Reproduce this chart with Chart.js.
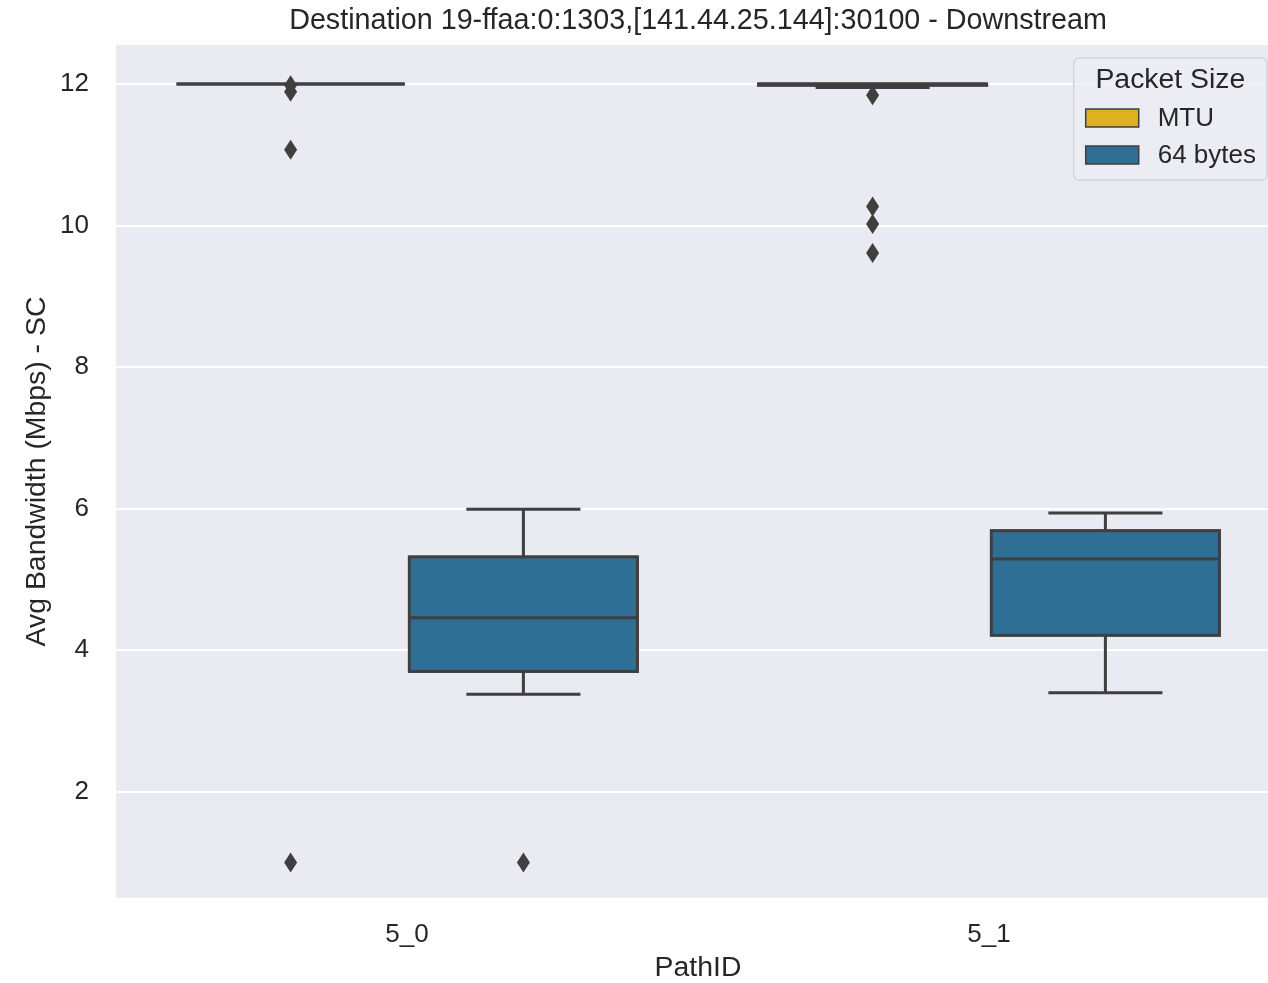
<!DOCTYPE html>
<html>
<head>
<meta charset="utf-8">
<title>Downstream bandwidth</title>
<style>
  html, body { margin: 0; padding: 0; background: #fff; overflow: hidden; }
  #wrap { width: 1282px; height: 983px; }
</style>
</head>
<body>
<div id="wrap"><canvas id="boxChart" width="1282" height="983"></canvas></div>

<script src="https://cdn.jsdelivr.net/npm/chart.js@4.4.0/dist/chart.umd.min.js"></script>

<script>
  const chartTitle = 'Destination 19-ffaa:0:1303,[141.44.25.144]:30100 - Downstream'
  const pathIds = ['5_0', '5_1']
  const packetSizes = ['MTU', '64 bytes']
  const yTicks = [2, 4, 6, 8, 10, 12]

  // MTU packets, one value per path
  const mtuLow = [12.0, 11.95]
  const mtuQ1 = [12.0, 11.98]
  const mtuMedian = [12.0, 12.0]
  const mtuQ3 = [12.0, 12.0]
  const mtuHigh = [12.0, 12.0]
  const mtuOutliers = [[11.98, 11.89, 11.07, 1.0], [11.84, 10.27, 10.02, 9.61]]

  // 64 byte packets
  const smallLow = [3.38, 3.40]
  const smallQ1 = [3.70, 4.21]
  const smallMedian = [4.46, 5.29]
  const smallQ3 = [5.32, 5.69]
  const smallHigh = [5.99, 5.94]
  const smallOutliers = [[1.0], []]

  const boxStats = [
    { low: mtuLow, q1: mtuQ1, median: mtuMedian, q3: mtuQ3, high: mtuHigh, outliers: mtuOutliers },
    { low: smallLow, q1: smallQ1, median: smallMedian, q3: smallQ3, high: smallHigh, outliers: smallOutliers }
  ]
  const fillColors = ['#E0B11F', '#2F6E95']
  const lineColor = '#3F3F3F'
  const textColor = '#262626'
  const fontFamily = '"Liberation Sans", Arial, sans-serif'

  Chart.defaults.font.family = fontFamily
  Chart.defaults.color = textColor

  // plot panel background
  const panel = {
    id: 'panel',
    beforeDraw(chart) {
      const { ctx, chartArea: a } = chart
      ctx.save()
      ctx.fillStyle = '#ffffff'
      ctx.fillRect(0, 0, chart.width, chart.height)
      ctx.fillStyle = '#EAEAF2'
      ctx.fillRect(a.left, a.top, a.right - a.left, a.bottom - a.top)
      ctx.restore()
    }
  }

  // whiskers, box outline, median and outliers on top of the floating bars
  const boxPlot = {
    id: 'boxPlot',
    afterDatasetsDraw(chart) {
      const ctx = chart.ctx
      const y = chart.scales.y
      chart.data.datasets.forEach((ds, i) => {
        const s = boxStats[i]
        chart.getDatasetMeta(i).data.forEach((bar, j) => {
          const x = bar.x
          const w = bar.width
          const pLow = y.getPixelForValue(s.low[j])
          const pQ1 = y.getPixelForValue(s.q1[j])
          const pMed = y.getPixelForValue(s.median[j])
          const pQ3 = y.getPixelForValue(s.q3[j])
          const pHigh = y.getPixelForValue(s.high[j])
          ctx.save()
          ctx.strokeStyle = lineColor
          ctx.lineWidth = 3
          ctx.beginPath()
          ctx.moveTo(x, pQ3); ctx.lineTo(x, pHigh)
          ctx.moveTo(x, pQ1); ctx.lineTo(x, pLow)
          ctx.moveTo(x - w / 4, pHigh); ctx.lineTo(x + w / 4, pHigh)
          ctx.moveTo(x - w / 4, pLow); ctx.lineTo(x + w / 4, pLow)
          ctx.moveTo(x - w / 2, pMed); ctx.lineTo(x + w / 2, pMed)
          ctx.stroke()
          ctx.strokeRect(x - w / 2, pQ3, w, pQ1 - pQ3)
          ctx.fillStyle = lineColor
          s.outliers[j].forEach(v => {
            const py = y.getPixelForValue(v)
            ctx.beginPath()
            ctx.moveTo(x, py - 10)
            ctx.lineTo(x + 6.5, py)
            ctx.lineTo(x, py + 10)
            ctx.lineTo(x - 6.5, py)
            ctx.closePath()
            ctx.fill()
          })
          ctx.restore()
        })
      })
    }
  }

  // title centred over the plot panel, legend box in its top right corner
  const annotations = {
    id: 'annotations',
    afterDraw(chart) {
      const { ctx, chartArea: a } = chart
      ctx.save()
      ctx.fillStyle = textColor
      ctx.font = '28.7px ' + fontFamily
      ctx.textAlign = 'center'
      ctx.textBaseline = 'middle'
      ctx.fillText(chartTitle, (a.left + a.right) / 2, 21)

      const labelFont = '26px ' + fontFamily
      ctx.font = labelFont
      const textW = Math.max(...chart.data.datasets.map(d => ctx.measureText(d.label).width))
      const boxW = 12 + 53 + 19 + textW + 11
      const boxH = 122
      const right = a.right - 13
      const left = right - boxW
      const top = a.top + 13
      ctx.beginPath()
      ctx.roundRect(left, top, boxW, boxH, 5)
      ctx.fillStyle = 'rgba(236,236,244,0.8)'
      ctx.fill()
      ctx.strokeStyle = '#D4D4DC'
      ctx.lineWidth = 1.5
      ctx.stroke()

      ctx.fillStyle = textColor
      ctx.font = '28.4px ' + fontFamily
      ctx.textAlign = 'center'
      ctx.fillText('Packet Size', left + boxW / 2, top + 22)

      ctx.font = labelFont
      ctx.textAlign = 'left'
      chart.data.datasets.forEach((d, i) => {
        const cy = top + 60 + i * 37
        ctx.fillStyle = d.backgroundColor
        ctx.fillRect(left + 12, cy - 9, 53, 18)
        ctx.strokeStyle = lineColor
        ctx.lineWidth = 1.5
        ctx.strokeRect(left + 12, cy - 9, 53, 18)
        ctx.fillStyle = textColor
        ctx.fillText(d.label, left + 12 + 53 + 19, cy + 1)
      })
      ctx.restore()
    }
  }

  new Chart(document.getElementById('boxChart'), {
    type: 'bar',
    data: {
      labels: pathIds,
      datasets: packetSizes.map((name, i) => ({
        label: name,
        data: boxStats[i].q1.map((q1, j) => [q1, boxStats[i].q3[j]]),
        backgroundColor: fillColors[i],
        borderWidth: 0,
        categoryPercentage: 0.8,
        barPercentage: 0.98
      }))
    },
    options: {
      responsive: false,
      animation: false,
      devicePixelRatio: 1,
      layout: { padding: { left: 0, right: 2, top: 45, bottom: 0 } },
      plugins: {
        legend: { display: false },
        title: { display: false },
        tooltip: { enabled: false }
      },
      scales: {
        x: {
          offset: true,
          grid: { display: false, drawTicks: false },
          border: { display: false },
          ticks: { padding: 21, font: { size: 26 }, color: textColor },
          title: { display: true, text: 'PathID', font: { size: 28.4 }, color: textColor, padding: { top: 0, bottom: -2 } },
          afterFit: scale => { scale.height = 85 }
        },
        y: {
          min: 0.5,
          max: 12.55,
          grid: { color: '#ffffff', lineWidth: 2, drawTicks: false },
          border: { display: false },
          ticks: { padding: 27, font: { size: 26 }, color: textColor },
          afterBuildTicks: scale => { scale.ticks = yTicks.map(v => ({ value: v })) },
          title: { display: true, text: 'Avg Bandwidth (Mbps) - SC', font: { size: 28.4 }, color: textColor, padding: { top: 20, bottom: 0 } },
          afterFit: scale => { scale.width = 116 }
        }
      }
    },
    plugins: [panel, boxPlot, annotations]
  })
</script>
</body>
</html>
